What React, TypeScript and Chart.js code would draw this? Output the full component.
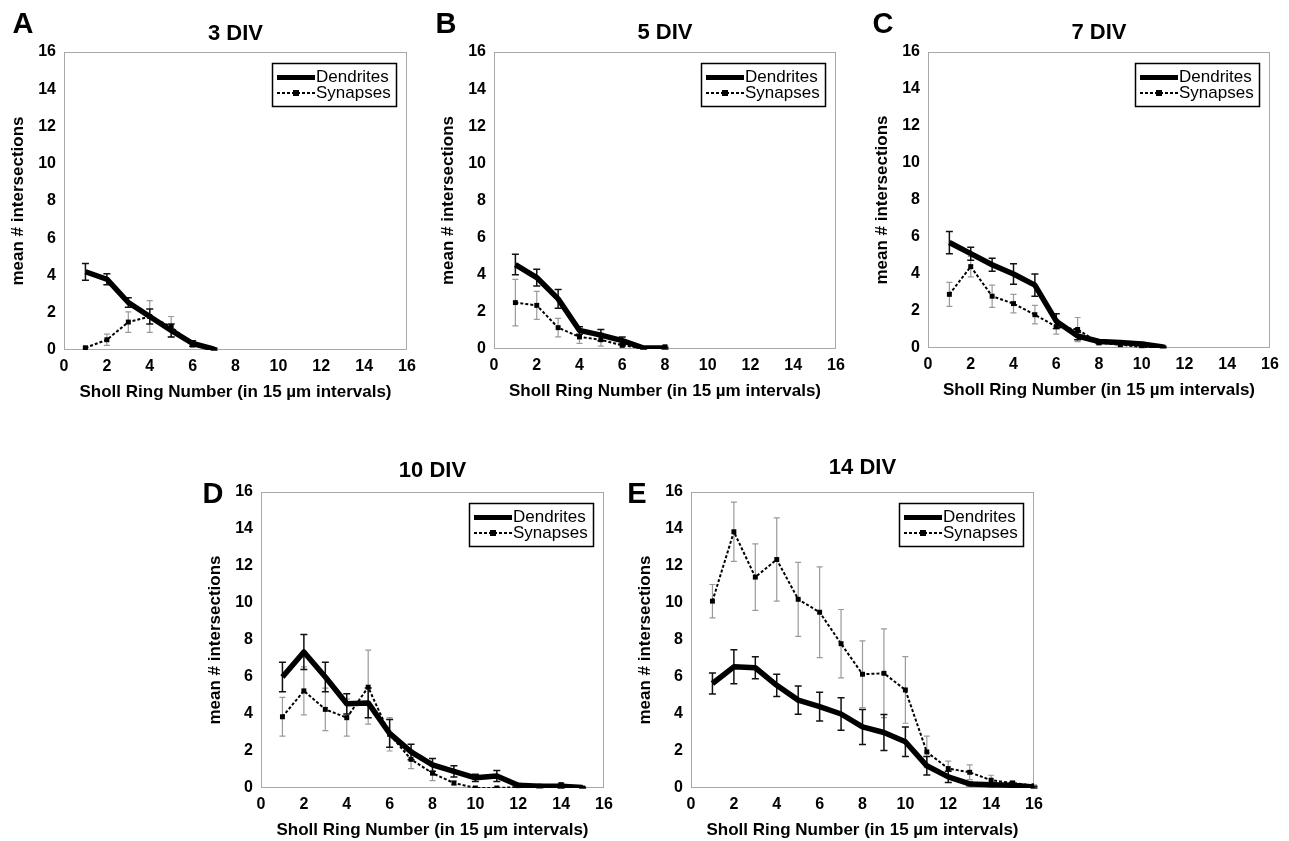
import React, { useEffect, useRef } from "react";
import { Chart, registerables } from "chart.js";

Chart.register(...registerables);

const FONT = "'Liberation Sans', Arial, Helvetica, sans-serif";

// ---- shared axis ticks ----
const xTickValues = [0, 2, 4, 6, 8, 10, 12, 14, 16];
const yTickValues = [0, 2, 4, 6, 8, 10, 12, 14, 16];
const xAxisTitle = "Sholl Ring Number (in 15 \u00b5m intervals)";
const yAxisTitle = "mean # intersections";
const seriesNames = ["Dendrites", "Synapses"];

// ---- A: 3 DIV ----
const ringsA = [1, 2, 3, 4, 5, 6, 7];
const dendA = [4.2, 3.8, 2.55, 1.8, 1.05, 0.35, 0.05];
const dendErrA = [0.45, 0.3, 0.25, 0.4, 0.35, 0.15, 0.05];
const synA = [0.12, 0.55, 1.5, 1.8, 1.25, 0.27, 0.03];
const synErrA = [0.05, 0.3, 0.55, 0.85, 0.55, 0.1, 0.02];

// ---- B: 5 DIV ----
const ringsB = [1, 2, 3, 4, 5, 6, 7, 8];
const dendB = [4.55, 3.85, 2.7, 1.0, 0.75, 0.45, 0.05, 0.05];
const dendErrB = [0.55, 0.45, 0.5, 0.2, 0.3, 0.2, 0.05, 0.05];
const synB = [2.5, 2.35, 1.15, 0.65, 0.5, 0.2, 0.03, 0.12];
const synErrB = [1.25, 0.75, 0.5, 0.35, 0.35, 0.1, 0.02, 0.05];

// ---- C: 7 DIV ----
const ringsC = [1, 2, 3, 4, 5, 6, 7, 8, 9, 10, 11];
const dendC = [5.7, 5.1, 4.5, 4.0, 3.4, 1.45, 0.65, 0.35, 0.3, 0.22, 0.05];
const dendErrC = [0.6, 0.35, 0.35, 0.55, 0.6, 0.4, 0.2, 0.1, 0.08, 0.08, 0.03];
const synC = [2.9, 4.4, 2.8, 2.4, 1.8, 1.15, 1.0, 0.28, 0.18, 0.05, 0.05];
const synErrC = [0.65, 0.55, 0.6, 0.5, 0.5, 0.4, 0.65, 0.1, 0.08, 0.05, 0.03];

// ---- D: 10 DIV ----
const ringsD = [1, 2, 3, 4, 5, 6, 7, 8, 9, 10, 11, 12, 13, 14, 15];
const dendD = [6.0, 7.35, 6.0, 4.55, 4.6, 2.95, 1.95, 1.25, 0.9, 0.55, 0.65, 0.15, 0.1, 0.1, 0.03];
const dendErrD = [0.8, 0.95, 0.8, 0.55, 0.8, 0.75, 0.42, 0.35, 0.3, 0.2, 0.3, 0.1, 0.08, 0.1, 0.03];
const synD = [3.85, 5.25, 4.25, 3.8, 5.45, 2.9, 1.55, 0.8, 0.27, 0, 0, 0.05, 0.1, 0.18, 0];
const synErrD = [1.05, 1.3, 1.15, 1.0, 2.0, 0.9, 0.5, 0.4, 0.1, 0, 0, 0.03, 0.05, 0.1, 0];

// ---- E: 14 DIV ----
const ringsE = [1, 2, 3, 4, 5, 6, 7, 8, 9, 10, 11, 12, 13, 14, 15, 16];
const dendE = [5.65, 6.55, 6.5, 5.55, 4.75, 4.4, 4.0, 3.3, 3.0, 2.5, 1.2, 0.6, 0.22, 0.18, 0.15, 0.05];
const dendErrE = [0.57, 0.92, 0.6, 0.6, 0.76, 0.78, 0.88, 0.95, 0.97, 0.8, 0.5, 0.3, 0.1, 0.1, 0.08, 0.05];
const synE = [10.1, 13.85, 11.4, 12.35, 10.2, 9.5, 7.8, 6.15, 6.2, 5.3, 1.95, 1.05, 0.85, 0.42, 0.27, 0.12];
const synErrE = [0.9, 1.6, 1.8, 2.25, 2.0, 2.45, 1.85, 1.8, 2.4, 1.8, 0.85, 0.4, 0.4, 0.27, 0.1, 0.05];

type Panel = {
  letter: string;
  title: string;
  L: number; T: number; R: number; B: number;
  titleY: number;
  letterX: number; letterY: number;
  rings: number[];
  dend: number[]; dendErr: number[];
  syn: number[]; synErr: number[];
};

const PANELS: Panel[] = [
  { letter: "A", title: "3 DIV", L: 64, T: 52, R: 407, B: 350, titleY: 34, letterX: 23, letterY: 23, rings: ringsA, dend: dendA, dendErr: dendErrA, syn: synA, synErr: synErrA },
  { letter: "B", title: "5 DIV", L: 494, T: 52, R: 836, B: 349, titleY: 33, letterX: 446, letterY: 23, rings: ringsB, dend: dendB, dendErr: dendErrB, syn: synB, synErr: synErrB },
  { letter: "C", title: "7 DIV", L: 928, T: 52, R: 1270, B: 348, titleY: 33, letterX: 883, letterY: 23, rings: ringsC, dend: dendC, dendErr: dendErrC, syn: synC, synErr: synErrC },
  { letter: "D", title: "10 DIV", L: 261, T: 492, R: 604, B: 788, titleY: 471, letterX: 213, letterY: 493, rings: ringsD, dend: dendD, dendErr: dendErrD, syn: synD, synErr: synErrD },
  { letter: "E", title: "14 DIV", L: 691, T: 492, R: 1034, B: 788, titleY: 468, letterX: 637, letterY: 493, rings: ringsE, dend: dendE, dendErr: dendErrE, syn: synE, synErr: synErrE },
];

const WY = 60; // fixed y-axis box width
const HX = 55; // fixed x-axis box height
const PR = 16; // right padding
const TITLE_SIZE = 22;
const TITLE_LH = TITLE_SIZE * 1.2;

const framePlugin = {
  id: "frame",
  beforeDatasetsDraw(chart: any) {
    const { ctx, chartArea: a } = chart;
    ctx.save();
    ctx.strokeStyle = "#a8a8a8";
    ctx.lineWidth = 1;
    ctx.strokeRect(Math.round(a.left) + 0.5, Math.round(a.top) + 0.5, Math.round(a.right - a.left) - 1, Math.round(a.bottom - a.top) - 1);
    ctx.restore();
  },
};

const errorBarPlugin = {
  id: "errbars",
  beforeDatasetsDraw(chart: any, _args: any, opts: any) {
    const { ctx } = chart;
    const xs = chart.scales.x;
    const ys = chart.scales.y;
    for (const set of opts.sets || []) {
      ctx.save();
      ctx.strokeStyle = set.color;
      ctx.lineWidth = set.width;
      set.xs.forEach((xv: number, i: number) => {
        const e = set.err[i];
        if (!e) return;
        const v = set.ys[i];
        const px = xs.getPixelForValue(xv);
        const pTop = ys.getPixelForValue(v + e);
        const pBot = ys.getPixelForValue(v - e);
        ctx.beginPath();
        ctx.moveTo(px, pTop);
        ctx.lineTo(px, pBot);
        ctx.moveTo(px - set.cap, pTop);
        ctx.lineTo(px + set.cap, pTop);
        ctx.moveTo(px - set.cap, pBot);
        ctx.lineTo(px + set.cap, pBot);
        ctx.stroke();
      });
      ctx.restore();
    }
  },
};

const boxLegendPlugin = {
  id: "boxLegend",
  afterDatasetsDraw(chart: any) {
    const { ctx, chartArea: a } = chart;
    const bw = 125, bh = 44;
    const bx = Math.round(a.right) - 10 - bw;
    const by = Math.round(a.top) + 11;
    ctx.save();
    ctx.fillStyle = "#ffffff";
    ctx.fillRect(bx, by, bw, bh);
    ctx.strokeStyle = "#000";
    ctx.lineWidth = 1.5;
    ctx.strokeRect(bx + 0.5, by + 0.5, bw - 1, bh - 1);
    const y1 = by + 14.5;
    const y2 = by + 30;
    ctx.beginPath();
    ctx.lineWidth = 5;
    ctx.moveTo(bx + 5, y1);
    ctx.lineTo(bx + 43, y1);
    ctx.stroke();
    ctx.beginPath();
    ctx.lineWidth = 2;
    ctx.setLineDash([3, 2]);
    ctx.moveTo(bx + 5, y2);
    ctx.lineTo(bx + 43, y2);
    ctx.stroke();
    ctx.setLineDash([]);
    ctx.fillStyle = "#000";
    ctx.fillRect(bx + 24 - 3, y2 - 3, 6, 6);
    ctx.font = `17px ${FONT}`;
    ctx.textBaseline = "middle";
    ctx.textAlign = "left";
    ctx.fillText(seriesNames[0], bx + 44, y1);
    ctx.fillText(seriesNames[1], bx + 44, y2);
    ctx.restore();
  },
};

function ShollChart({ p }: { p: Panel }) {
  const ref = useRef<HTMLCanvasElement | null>(null);
  const canvasLeft = p.L - WY;
  const canvasTop = Math.round(p.titleY - TITLE_LH / 2);
  const width = WY + (p.R - p.L) + PR;
  const height = p.B - canvasTop + HX;
  const titlePadBottom = p.T - canvasTop - TITLE_LH;

  useEffect(() => {
    if (!ref.current) return;
    const tickFont = { family: FONT, size: 16, weight: "bold" as const };
    const axisTitleFont = { family: FONT, size: 17, weight: "bold" as const };
    const chart = new Chart(ref.current, {
      type: "line",
      data: {
        datasets: [
          {
            label: seriesNames[1],
            data: p.rings.map((r, i) => ({ x: r, y: p.syn[i] })),
            borderColor: "#000",
            borderWidth: 2,
            borderDash: [3, 2],
            pointStyle: "rect",
            pointRadius: 3.5,
            pointBackgroundColor: "#000",
            pointBorderColor: "#000",
            pointBorderWidth: 0,
            tension: 0,
            order: 0,
          },
          {
            label: seriesNames[0],
            data: p.rings.map((r, i) => ({ x: r, y: p.dend[i] })),
            borderColor: "#000",
            borderWidth: 5.5,
            borderJoinStyle: "round",
            borderCapStyle: "butt",
            pointRadius: 0,
            tension: 0,
            order: 1,
          },
        ],
      },
      options: {
        responsive: false,
        animation: false,
        devicePixelRatio: 1,
        layout: { padding: { left: 0, top: 0, right: PR, bottom: 0 } },
        events: [],
        plugins: {
          legend: { display: false },
          tooltip: { enabled: false },
          title: {
            display: true,
            text: p.title,
            fullSize: false,
            color: "#000",
            font: { family: FONT, size: TITLE_SIZE, weight: "bold" },
            padding: { top: 0, bottom: titlePadBottom },
          },
          errbars: {
            sets: [
              { xs: p.rings, ys: p.syn, err: p.synErr, color: "#9a9a9a", width: 1.2, cap: 3 },
              { xs: p.rings, ys: p.dend, err: p.dendErr, color: "#111", width: 1.5, cap: 3.5 },
            ],
          },
        } as any,
        scales: {
          x: {
            type: "linear",
            min: 0,
            max: 16,
            afterBuildTicks: (s: any) => {
              s.ticks = xTickValues.map((v) => ({ value: v }));
            },
            ticks: { font: tickFont, color: "#000", padding: 7, maxRotation: 0, autoSkip: false },
            grid: { display: false, drawTicks: false },
            border: { display: false },
            title: { display: true, text: xAxisTitle, color: "#000", font: axisTitleFont, padding: { top: 0, bottom: 2 } },
            afterFit: (s: any) => {
              s.height = HX;
            },
          },
          y: {
            type: "linear",
            min: 0,
            max: 16,
            afterBuildTicks: (s: any) => {
              s.ticks = yTickValues.map((v) => ({ value: v }));
            },
            ticks: { font: tickFont, color: "#000", padding: 8, autoSkip: false },
            grid: { display: false, drawTicks: false },
            border: { display: false },
            title: { display: true, text: yAxisTitle, color: "#000", font: axisTitleFont, padding: { top: 4, bottom: 0 } },
            afterFit: (s: any) => {
              s.width = WY;
            },
          },
        },
      },
      plugins: [framePlugin, errorBarPlugin, boxLegendPlugin],
    } as any);
    return () => chart.destroy();
  }, [p]);

  return (
    <>
      <canvas
        ref={ref}
        width={width}
        height={height}
        style={{ position: "absolute", left: canvasLeft, top: canvasTop, width, height }}
      />
      <div
        style={{
          position: "absolute",
          left: p.letterX,
          top: p.letterY,
          transform: "translate(-50%, -50%)",
          fontFamily: FONT,
          fontWeight: "bold",
          fontSize: 29,
          lineHeight: 1,
          color: "#000",
        }}
      >
        {p.letter}
      </div>
    </>
  );
}

export default function App() {
  return (
    <div style={{ position: "absolute", left: 0, top: 0, width: 1289, height: 841, background: "#fff", overflow: "hidden" }}>
      {PANELS.map((p) => (
        <ShollChart key={p.letter} p={p} />
      ))}
    </div>
  );
}
